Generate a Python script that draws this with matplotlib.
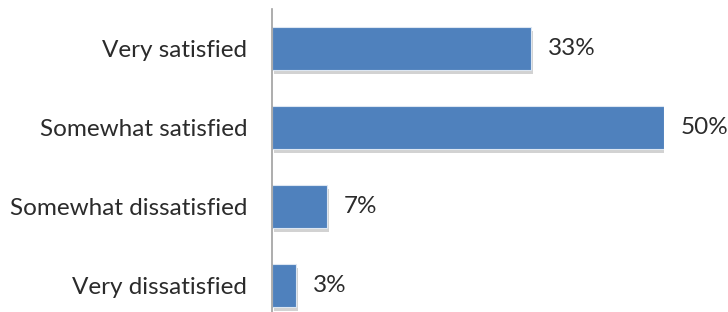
import matplotlib
matplotlib.use('Agg')
import matplotlib.pyplot as plt
import matplotlib.patheffects as pe

categories = ['Very satisfied', 'Somewhat satisfied', 'Somewhat dissatisfied', 'Very dissatisfied']
values = [33, 50, 7, 3]
value_labels = ['33%', '50%', '7%', '3%']

W, H = 728, 312
fig = plt.figure(figsize=(W / 100, H / 100), dpi=100)
plt.rcParams['font.family'] = ['Lato', 'DejaVu Sans']

# axes placed in pixel terms: left at the axis line, 0..50 spans 272..664
left, right = 272, 664
top, bottom = 9, 312
ax = fig.add_axes([left / W, 0, (right - left) / W, (bottom - top) / H])

pos = list(range(len(categories)))
bars = ax.barh(pos, values, height=0.54, color='#4F81BD', edgecolor='#DCE6F2', linewidth=0.8)
for b in bars:
    b.set_path_effects([pe.SimplePatchShadow(offset=(1.5, -3), shadow_rgbFace='#909090', alpha=0.4),
                        pe.Normal()])

ax.set_xlim(0, 50)
ax.set_ylim(3.5 + (bottom - top) / 79 - 4, -0.5)

for p, v, lab in zip(pos, values, value_labels):
    ax.annotate(lab, (v, p), xytext=(17, 0), textcoords='offset pixels',
                va='center', ha='left', fontsize=17.5, color='#2b2b2b', annotation_clip=False)

ax.set_yticks(pos)
ax.set_yticklabels(categories, fontsize=17.5, color='#2b2b2b')
ax.tick_params(axis='y', length=0, pad=18)
ax.set_xticks([])
for s in ['top', 'right', 'bottom']:
    ax.spines[s].set_visible(False)
ax.spines['left'].set_color('#A0A0A0')
ax.spines['left'].set_linewidth(1.2)

fig.savefig('out.png', dpi=100, facecolor='white')
